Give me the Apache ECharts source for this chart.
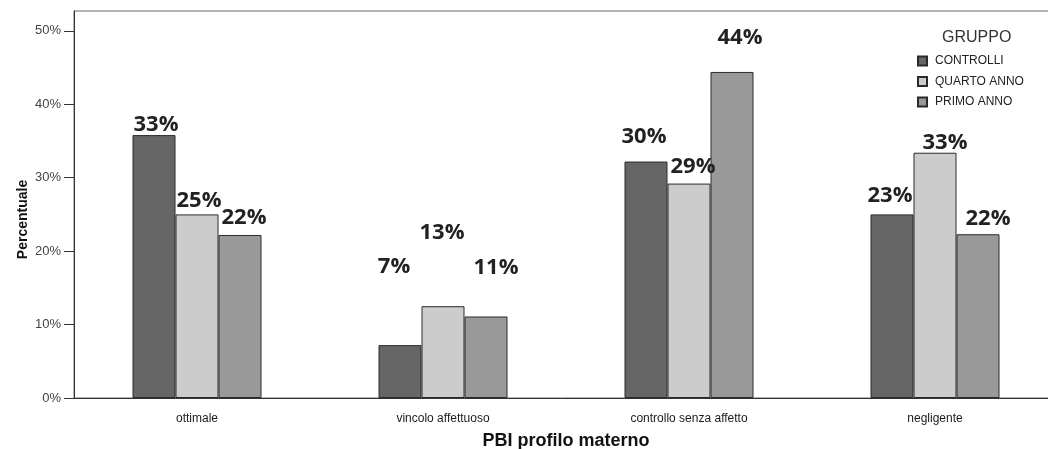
<!DOCTYPE html>
<html>
<head>
<meta charset="utf-8">
<script src="https://cdn.jsdelivr.net/npm/echarts@6/dist/echarts.min.js"></script>
<style>
html,body{margin:0;padding:0;background:#fff;}
#chart{width:1048px;height:449px;}
</style>
</head>
<body>
<div id="chart"></div>
<script>
// ---- data ----
const categories = ['ottimale', 'vincolo affettuoso', 'controllo senza affetto', 'negligente'];
const seriesNames = ['CONTROLLI', 'QUARTO ANNO', 'PRIMO ANNO'];
const controlli = [35.8, 7.2, 32.2, 25.0];
const quartoAnno = [25.0, 12.5, 29.2, 33.4];
const primoAnno = [22.2, 11.1, 44.4, 22.3];
const labelsControlli = ['33%', '7%', '30%', '23%'];
const labelsQuarto = ['25%', '13%', '29%', '33%'];
const labelsPrimo = ['22%', '11%', '44%', '22%'];
const yTicks = [0, 10, 20, 30, 40, 50];
const legendTitle = 'GRUPPO';

// ---- styling / placement (not data) ----
const colors = ['#666666', '#cccccc', '#999999'];
const labelOffsets = [
  [[2, -10], [-6, -78], [-2, -25], [-2, -19]],
  [[2, -14], [-1, -73], [4, -17], [10, -10]],
  [[4, -17], [10, -49], [8, -34], [10, -16]]
];

const values = [controlli, quartoAnno, primoAnno];
const labelTexts = [labelsControlli, labelsQuarto, labelsPrimo];

const series = values.map((vals, si) => ({
  name: seriesNames[si],
  type: 'bar',
  barWidth: 43,
  barGap: '0%',
  itemStyle: { color: colors[si], borderColor: '#2a2a2a', borderWidth: 1 },
  label: {
    show: true,
    position: ['50%', 0],
    align: 'center',
    verticalAlign: 'middle',
    fontFamily: '"Open Sans", sans-serif',
    fontWeight: 'bold',
    fontSize: 22,
    color: '#222222',
    formatter: p => labelTexts[si][p.dataIndex]
  },
  data: vals.map((v, i) => ({ value: v, label: { offset: labelOffsets[si][i] } }))
}));

const chart = echarts.init(document.getElementById('chart'), null, { renderer: 'canvas' });
chart.setOption({
  animation: false,
  backgroundColor: '#ffffff',
  title: {
    text: legendTitle,
    left: 937,
    top: 25,
    textStyle: { fontFamily: '"Liberation Sans", Arial, sans-serif', fontWeight: 'normal', fontSize: 16, color: '#333333' }
  },
  legend: {
    orient: 'vertical',
    left: 917,
    top: 55,
    padding: 0,
    itemWidth: 9,
    itemHeight: 9,
    itemGap: 8.5,
    itemTextGap: 9,
    icon: 'rect',
    data: seriesNames,
    textStyle: { fontFamily: '"Liberation Sans", Arial, sans-serif', fontSize: 12, color: '#222222', lineHeight: 12, padding: [0, 0, 0, 3] }
  },
  grid: {
    left: 74, top: 11, width: 984, bottom: 51,
    show: true, borderColor: '#666666', borderWidth: 1,
    containLabel: false,
    outerBoundsMode: 'none'
  },
  xAxis: {
    type: 'category',
    data: categories,
    name: 'PBI profilo materno',
    nameLocation: 'middle',
    nameGap: 34,
    nameTextStyle: { fontFamily: '"Liberation Sans", Arial, sans-serif', fontWeight: 'bold', fontSize: 18, color: '#111111' },
    axisLine: { lineStyle: { color: '#333333', width: 1 } },
    axisTick: { alignWithLabel: true, length: 5, lineStyle: { color: '#333333' } },
    axisLabel: { margin: 15, fontFamily: '"Liberation Sans", Arial, sans-serif', fontSize: 12, color: '#1a1a1a' }
  },
  yAxis: {
    type: 'value',
    min: 0,
    max: 52.7,
    interval: 10,
    name: 'Percentuale',
    nameLocation: 'middle',
    nameRotate: 90,
    nameGap: 44,
    nameMoveOverlap: false,
    nameTextStyle: { fontFamily: '"Liberation Sans", Arial, sans-serif', fontWeight: 'bold', fontSize: 14, color: '#111111', padding: [0, 30, 0, 0] },
    splitLine: { show: false },
    axisLine: { show: true, lineStyle: { color: '#333333', width: 1 } },
    axisTick: { show: true, length: 10, customValues: yTicks, lineStyle: { color: '#333333' } },
    axisLabel: {
      margin: 13,
      customValues: yTicks,
      fontFamily: '"Liberation Sans", Arial, sans-serif',
      fontSize: 13,
      color: '#444444',
      formatter: v => v + '%'
    }
  },
  series: series
});
</script>
</body>
</html>
